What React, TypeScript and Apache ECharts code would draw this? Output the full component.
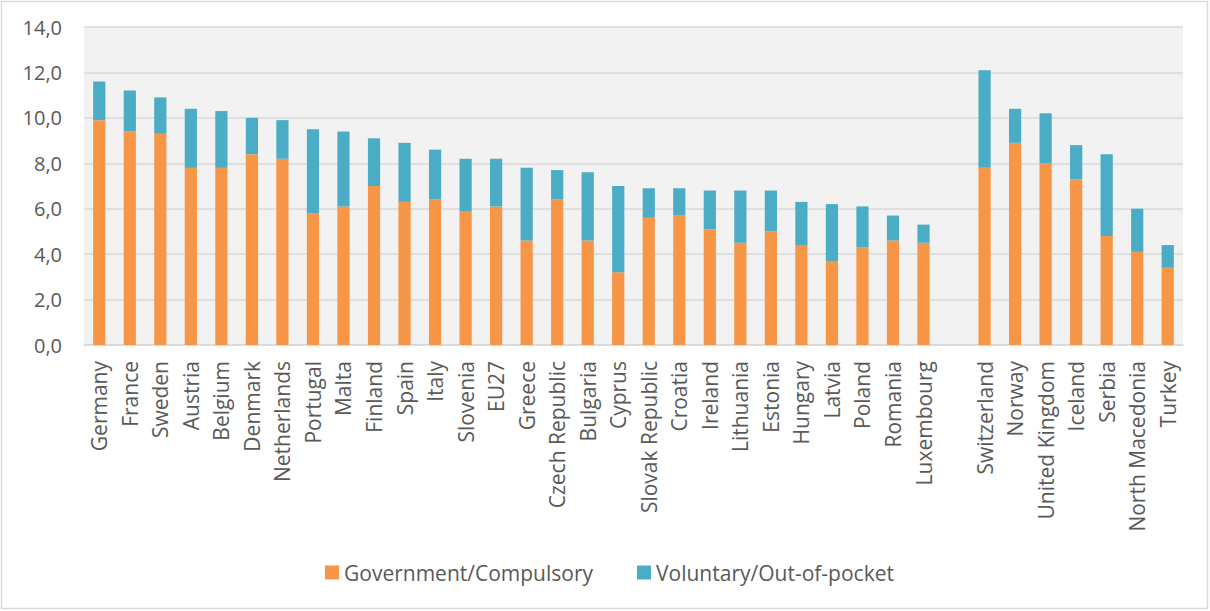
import React, { useEffect, useRef } from "react";
import * as echarts from "echarts";

// Countries, with an empty slot separating EU members from the other European countries
const countries: string[] = [
  "Germany", "France", "Sweden", "Austria", "Belgium", "Denmark", "Netherlands",
  "Portugal", "Malta", "Finland", "Spain", "Italy", "Slovenia", "EU27", "Greece",
  "Czech Republic", "Bulgaria", "Cyprus", "Slovak Republic", "Croatia", "Ireland",
  "Lithuania", "Estonia", "Hungary", "Latvia", "Poland", "Romania", "Luxembourg",
  "",
  "Switzerland", "Norway", "United Kingdom", "Iceland", "Serbia", "North Macedonia", "Turkey",
];

// Health spending, % of GDP — government/compulsory schemes
const governmentCompulsory: (number | null)[] = [
  9.9, 9.4, 9.3, 7.8, 7.8, 8.4, 8.2,
  5.8, 6.1, 7.0, 6.3, 6.4, 5.9, 6.1, 4.6,
  6.4, 4.6, 3.2, 5.6, 5.7, 5.1,
  4.5, 5.0, 4.4, 3.7, 4.3, 4.6, 4.5,
  null,
  7.8, 8.9, 8.0, 7.3, 4.8, 4.1, 3.4,
];

// Health spending, % of GDP — voluntary schemes and out-of-pocket payments
const voluntaryOutOfPocket: (number | null)[] = [
  1.7, 1.8, 1.6, 2.6, 2.5, 1.6, 1.7,
  3.7, 3.3, 2.1, 2.6, 2.2, 2.3, 2.1, 3.2,
  1.3, 3.0, 3.8, 1.3, 1.2, 1.7,
  2.3, 1.8, 1.9, 2.5, 1.8, 1.1, 0.8,
  null,
  4.3, 1.5, 2.2, 1.5, 3.6, 1.9, 1.0,
];

const seriesNames = ["Government/Compulsory", "Voluntary/Out-of-pocket"];
const seriesColors = ["#F79646", "#4BACC6"];

const FONT = "'Open Sans', sans-serif";
const TEXT_COLOR = "#595959";
const LINE_COLOR = "#D9D9D9";

export default function App() {
  const ref = useRef<HTMLDivElement>(null);

  useEffect(() => {
    document.body.style.margin = "0";
    if (!ref.current) return;
    const chart = echarts.init(ref.current, undefined, { renderer: "svg" });

    chart.setOption({
      animation: false,
      backgroundColor: "#FFFFFF",
      textStyle: { fontFamily: FONT },
      graphic: [
        {
          type: "rect",
          shape: { x: 1.5, y: 1.5, width: 1206, height: 607 },
          style: { fill: "none", stroke: LINE_COLOR, lineWidth: 1.5 },
          silent: true,
        },
      ],
      grid: {
        left: 84,
        right: 27,
        top: 27,
        bottom: 266,
        show: true,
        backgroundColor: "#F2F2F2",
        borderWidth: 0,
      },
      legend: {
        left: 325,
        top: 562,
        padding: 0,
        itemWidth: 14,
        itemHeight: 14,
        itemGap: 44,
        icon: "rect",
        textStyle: { fontFamily: FONT, fontSize: 21, color: TEXT_COLOR, padding: [0, 0, 0, 0] },
        data: seriesNames,
      },
      xAxis: {
        type: "category",
        data: countries,
        axisTick: { show: false },
        axisLine: { show: true, lineStyle: { color: LINE_COLOR, width: 1.5 } },
        axisLabel: {
          interval: 0,
          rotate: 90,
          margin: 16,
          fontFamily: FONT,
          fontSize: 21,
          color: TEXT_COLOR,
        },
      },
      yAxis: {
        type: "value",
        min: 0,
        max: 14,
        interval: 2,
        axisLine: { show: false },
        axisTick: { show: false },
        splitLine: { lineStyle: { color: LINE_COLOR, width: 1.5 } },
        axisLabel: {
          margin: 22,
          fontFamily: FONT,
          fontSize: 20,
          color: TEXT_COLOR,
          formatter: (v: number) => v.toFixed(1).replace(".", ","),
        },
      },
      series: [
        {
          name: seriesNames[0],
          type: "bar",
          stack: "total",
          barWidth: "40%",
          data: governmentCompulsory,
          itemStyle: { color: seriesColors[0] },
        },
        {
          name: seriesNames[1],
          type: "bar",
          stack: "total",
          barWidth: "40%",
          data: voluntaryOutOfPocket,
          itemStyle: { color: seriesColors[1] },
        },
      ],
    });

    return () => chart.dispose();
  }, []);

  return <div ref={ref} style={{ width: 1210, height: 611 }} />;
}
